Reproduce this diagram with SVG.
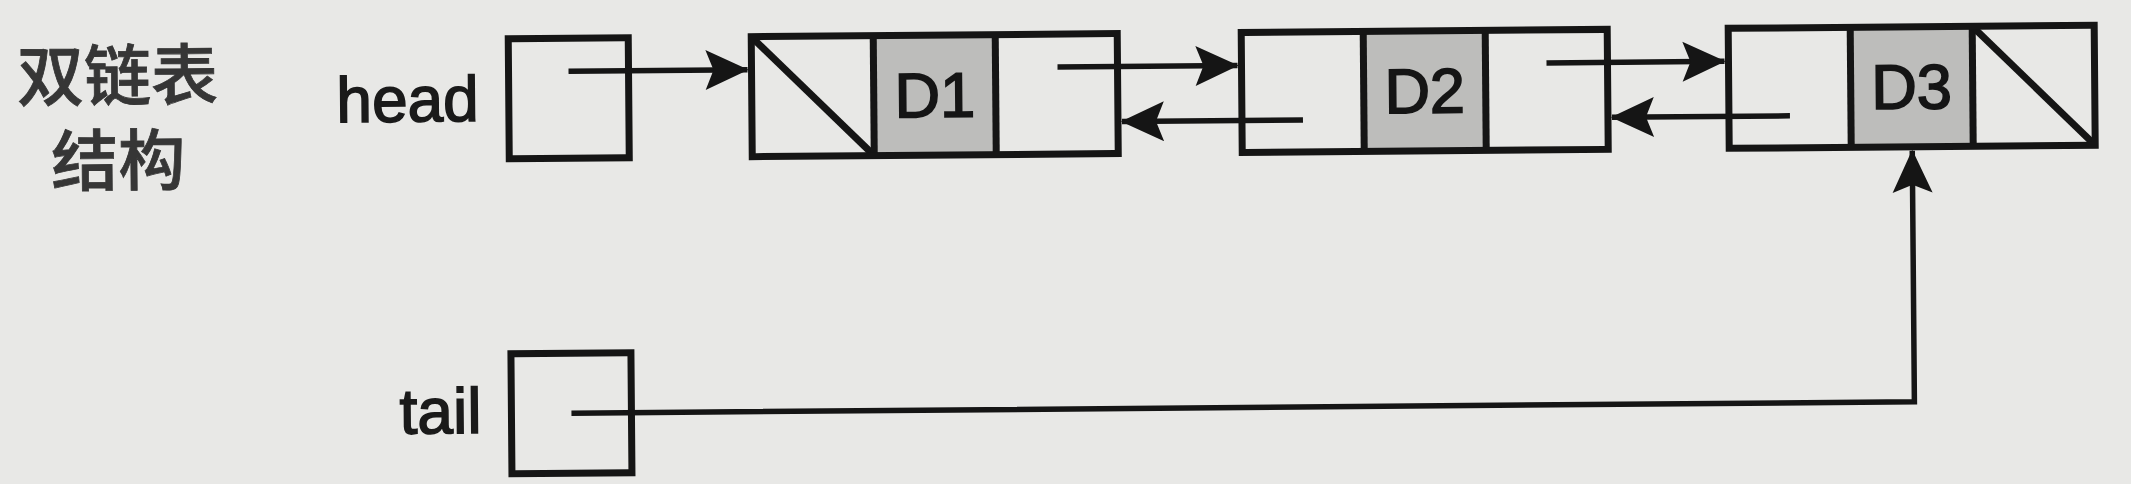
<svg xmlns="http://www.w3.org/2000/svg" width="2131" height="484" viewBox="0 0 2131 484">
<style>
.box{fill:none;stroke:#151515;stroke-width:7;stroke-linejoin:miter}
.data{fill:#bdbdbb;stroke:none}
.div{stroke:#151515;stroke-width:7}
.link{fill:none;stroke:#151515;stroke-width:5.5}
.lbl{font-family:"Liberation Sans",Arial,sans-serif;font-size:64px;fill:#1a1a1a;stroke:#1a1a1a;stroke-width:1.6}
.dl{font-family:"Liberation Sans",Arial,sans-serif;font-size:63px;fill:#151515;stroke:#151515;stroke-width:1.8;text-anchor:middle}
.cjk{font-family:"Noto Sans CJK SC","Noto Sans CJK TC",sans-serif;font-size:67px;font-weight:500;fill:#363636;stroke:#363636;stroke-width:0.8;text-anchor:middle}
</style>
<defs>
<marker id="arrow" markerUnits="userSpaceOnUse" viewBox="-44 -22 46 44" refX="0" refY="0" markerWidth="46" markerHeight="44" orient="auto">
<path d="M1,0 L-42,-20 L-34,0 L-42,20 Z" fill="#151515"/>
</marker>
</defs>
<rect x="0" y="0" width="2131" height="484" fill="#e8e8e6"/>
<g transform="rotate(-0.49 1065 242)">
<g id="title">
<text class="cjk" x="119" y="92">双链表</text>
<text class="cjk" x="119" y="177">结构</text>
</g>
<g id="head">
<text class="lbl" x="480" y="116" text-anchor="end">head</text>
<rect class="box" x="510" y="34" width="120" height="120"/>
</g>
<g id="tail">
<text class="lbl" x="480" y="428" text-anchor="end">tail</text>
<rect class="box" x="510" y="349" width="120" height="120"/>
</g>
<g id="node-d1">
<rect class="data" x="875" y="34" width="122" height="120"/>
<line class="div" x1="753" y1="34" x2="875" y2="154"/>
<line class="div" x1="875" y1="34" x2="875" y2="154"/>
<line class="div" x1="997" y1="34" x2="997" y2="154"/>
<rect class="box" x="753" y="34" width="366" height="120"/>
<text class="dl" x="936" y="116">D1</text>
</g>
<g id="node-d2">
<rect class="data" x="1365" y="34" width="122" height="120"/>
<line class="div" x1="1365" y1="34" x2="1365" y2="154"/>
<line class="div" x1="1487" y1="34" x2="1487" y2="154"/>
<rect class="box" x="1243" y="34" width="366" height="120"/>
<text class="dl" x="1426" y="116">D2</text>
</g>
<g id="node-d3">
<rect class="data" x="1852" y="34" width="122" height="120"/>
<line class="div" x1="1852" y1="34" x2="1852" y2="154"/>
<line class="div" x1="1974" y1="34" x2="1974" y2="154"/>
<line class="div" x1="1974" y1="34" x2="2096" y2="154"/>
<rect class="box" x="1730" y="34" width="366" height="120"/>
<text class="dl" x="1913" y="116">D3</text>
</g>
<g id="connectors">
<path class="link" d="M570,67 H749" marker-end="url(#arrow)"/>
<path class="link" d="M1059,67 H1239" marker-end="url(#arrow)"/>
<path class="link" d="M1548,67 H1726" marker-end="url(#arrow)"/>
<path class="link" d="M1304,122 H1123" marker-end="url(#arrow)"/>
<path class="link" d="M1791,122 H1613" marker-end="url(#arrow)"/>
<path class="link" d="M570,409 H1913 V158" marker-end="url(#arrow)"/>
</g>
</g>
</svg>
